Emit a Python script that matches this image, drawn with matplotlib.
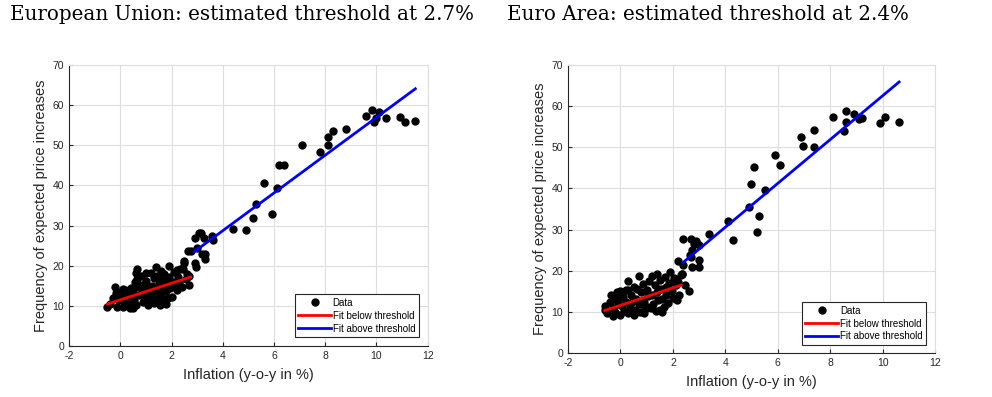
import matplotlib
matplotlib.use("Agg")
import matplotlib.pyplot as plt

# European Union data (inflation, frequency of expected price increases)
eu_x = [-0.5, -0.2, -0.15, -0.1, -0.11, 0.0, 0.05, 0.1, 0.15, 0.2, 0.25, 0.3, 0.3, 0.35,
        0.38, 0.42, 0.45, 0.5, 0.5, 0.55, 0.58, 0.6, 0.61, 0.65, 0.67, 0.7, 0.75, 0.8,
        0.85, 0.9, 0.95, 1.0, 1.05, 1.09, 1.1, 1.15, 1.2, 1.22, 1.25, 1.3, 1.35, 1.4,
        1.42, 1.45, 1.5, 1.5, 1.55, 1.58, 1.6, 1.62, 1.65, 1.7, 1.72, 1.74, 1.78, 1.8,
        1.85, 1.9, 1.92, 1.95, 2.0, 2.05, 2.1, 2.15, 2.2, 2.2, 2.25, 2.3, 2.35, 2.4,
        2.45, 2.5, 2.5, 2.55, 2.6, 2.69, 2.69, 2.66, 2.75, 0.2, -0.3, -0.4, 0.1, 0.4,
        1.3, 0.9, 1.8, 1.0,
        2.92, 2.95, 2.98, 3.18, 3.31, 3.31, 2.92, 3.06, 3.15, 3.27, 3.6, 3.63, 4.41,
        4.91, 5.19, 5.3, 5.91, 5.61, 6.1, 6.21, 6.41, 7.1, 7.79, 8.1, 8.1, 8.3, 8.81,
        9.61, 9.81, 9.91, 10.0, 10.1, 10.39, 10.91, 11.11, 11.5]
eu_y = [9.8, 14.6, 13.2, 11.5, 9.6, 12.4, 13.8, 14.3, 11.0, 12.8, 10.5, 13.6, 11.8, 14.0,
        9.4, 12.2, 10.3, 9.5, 13.2, 11.4, 15.9, 10.1, 18.2, 16.6, 19.2, 14.8, 12.6, 17.5,
        15.3, 13.9, 12.2, 16.1, 14.5, 10.2, 13.0, 11.5, 18.2, 15.0, 12.8, 16.9, 14.1, 19.7,
        11.8, 17.5, 13.5, 15.8, 10.2, 18.8, 12.5, 16.5, 14.8, 11.0, 17.9, 10.6, 13.6, 15.9,
        12.0, 20.0, 17.2, 14.5, 12.3, 16.0, 18.5, 15.2, 13.9, 18.9, 17.1, 16.0, 19.2, 14.6,
        19.3, 20.6, 21.2, 16.8, 18.0, 17.4, 15.1, 23.6, 23.6, 14.0, 12.0, 10.5, 9.8, 14.5,
        10.8, 11.0, 10.4, 18.3,
        20.6, 19.7, 24.3, 22.9, 22.9, 21.8, 26.9, 28.1, 28.1, 26.8, 27.4, 26.3, 29.1,
        29.0, 31.8, 35.4, 33.0, 40.7, 39.4, 45.2, 45.2, 50.0, 48.3, 52.2, 50.2, 53.7, 54.1,
        57.3, 58.9, 55.8, 56.8, 58.3, 56.9, 57.0, 55.8, 56.1]

# Euro Area data
ea_x = [-0.6, -0.6, -0.5, -0.4, -0.35, -0.3, -0.3, -0.25, -0.2, -0.15, -0.1, 0.0, 0.0,
        0.05, 0.1, 0.15, 0.2, 0.22, 0.29, 0.3, 0.35, 0.4, 0.45, 0.5, 0.5, 0.55, 0.6, 0.65,
        0.69, 0.7, 0.75, 0.8, 0.85, 0.9, 0.95, 1.0, 1.05, 1.1, 1.15, 1.2, 1.22, 1.25, 1.3,
        1.35, 1.39, 1.4, 1.45, 1.5, 1.5, 1.55, 1.6, 1.65, 1.7, 1.72, 1.75, 1.8, 1.85, 1.9,
        1.95, 2.0, 2.05, 2.1, 2.15, 2.2, 2.25, 2.3, 2.35, 1.6, 0.9, -0.1, 0.3, 1.0, 2.6,
        2.47,
        2.19, 2.38, 2.35, 2.4, 2.7, 2.88, 2.98, 2.79, 2.73, 2.64, 2.7, 3.01, 2.99, 2.73,
        3.39, 4.1, 4.29, 4.89, 5.19, 5.29, 4.99, 5.5, 5.1, 5.9, 6.09, 6.89, 6.98, 7.39,
        7.39, 8.09, 8.51, 8.6, 8.6, 8.91, 9.08, 9.21, 9.91, 10.1, 10.61]
ea_y = [10.5, 11.3, 9.6, 12.5, 14.2, 9.0, 11.0, 13.0, 10.0, 14.8, 12.0, 9.3, 15.0,
        11.5, 13.5, 10.2, 12.5, 15.4, 17.6, 9.8, 11.0, 14.0, 12.3, 9.2, 16.0, 10.5, 13.2,
        15.5, 18.6, 11.8, 9.9, 14.8, 16.8, 12.5, 10.8, 15.2, 13.8, 17.5, 11.0, 18.8, 14.2,
        12.0, 16.5, 10.2, 19.3, 14.8, 12.8, 17.8, 10.5, 15.5, 13.2, 11.2, 18.5, 16.0, 14.0,
        12.2, 17.0, 19.8, 15.0, 13.3, 18.2, 16.5, 12.8, 17.2, 14.2, 19.0, 19.3, 10.0, 9.8,
        13.0, 15.2, 11.2, 15.0, 16.6,
        22.4, 21.4, 19.3, 27.8, 27.8, 27.3, 26.3, 26.5, 25.1, 23.9, 23.3, 22.5, 20.9, 20.9,
        29.0, 32.0, 27.5, 35.6, 29.4, 33.2, 41.0, 39.7, 45.3, 48.1, 45.6, 52.6, 50.4, 54.2,
        50.2, 57.4, 54.0, 58.9, 56.1, 58.0, 56.8, 57.2, 56.0, 57.4, 56.1]

# fitted lines (endpoints)
eu_below_x, eu_below_y = [-0.5, 2.75], [10.45, 17.2]
eu_above_x, eu_above_y = [2.89, 11.52], [23.5, 64.1]
ea_below_x, ea_below_y = [-0.6, 2.32], [10.3, 16.5]
ea_above_x, ea_above_y = [2.39, 10.63], [22.0, 65.9]

TEXT_COLOR = '#262626'


def draw_panel(ax, x, y, below, above, legend_anchor):
    ax.plot(x, y, 'o', color='black', markersize=5, label='Data', zorder=3)
    ax.plot(below[0], below[1], color='#ff0000', linewidth=2,
            label='Fit below threshold', zorder=4)
    ax.plot(above[0], above[1], color='#0000ff', linewidth=2,
            label='Fit above threshold', zorder=4)

    ax.set_xlim(-2, 12)
    ax.set_ylim(0, 70)
    ax.set_xticks(range(-2, 13, 2))
    ax.set_yticks(range(0, 71, 10))
    ax.grid(True, color='#dedede', linewidth=0.8)
    ax.set_axisbelow(True)
    for side in ['top', 'right']:
        ax.spines[side].set_color('#dedede')
    for side in ['left', 'bottom']:
        ax.spines[side].set_color(TEXT_COLOR)
        ax.spines[side].set_linewidth(0.8)
    ax.tick_params(direction='in', length=3, labelsize=7.5, colors=TEXT_COLOR,
                   top=False, right=False)
    ax.set_xlabel('Inflation (y-o-y in %)', fontsize=10.5, color=TEXT_COLOR, labelpad=5)
    ax.set_ylabel('Frequency of expected price increases', fontsize=10.5,
                  color=TEXT_COLOR, labelpad=3)

    leg = ax.legend(loc='lower right', bbox_to_anchor=legend_anchor, borderaxespad=0,
                    fontsize=7, fancybox=False, framealpha=1, edgecolor=TEXT_COLOR,
                    handlelength=3.4, handletextpad=0.15, labelspacing=0.3,
                    borderpad=0.35)
    leg.get_frame().set_linewidth(0.8)


fig = plt.figure(figsize=(9.92, 3.97), dpi=100)
plt.rcParams['font.family'] = ['Liberation Sans', 'DejaVu Sans']
plt.rcParams['axes.unicode_minus'] = False

ax1 = fig.add_axes([0.0696, 0.1285, 0.3615, 0.7075])
ax2 = fig.add_axes([0.5726, 0.111, 0.370, 0.725])

draw_panel(ax1, eu_x, eu_y, (eu_below_x, eu_below_y), (eu_above_x, eu_above_y),
           (0.975, 0.032))
draw_panel(ax2, ea_x, ea_y, (ea_below_x, ea_below_y), (ea_above_x, ea_above_y),
           (0.975, 0.028))

fig.text(0.010, 0.950, 'European Union: estimated threshold at 2.7%',
         family='DejaVu Serif', fontsize=14.3, va='baseline')
fig.text(0.511, 0.950, 'Euro Area: estimated threshold at 2.4%',
         family='DejaVu Serif', fontsize=14.3, va='baseline')

fig.savefig('out.png', dpi=100)
